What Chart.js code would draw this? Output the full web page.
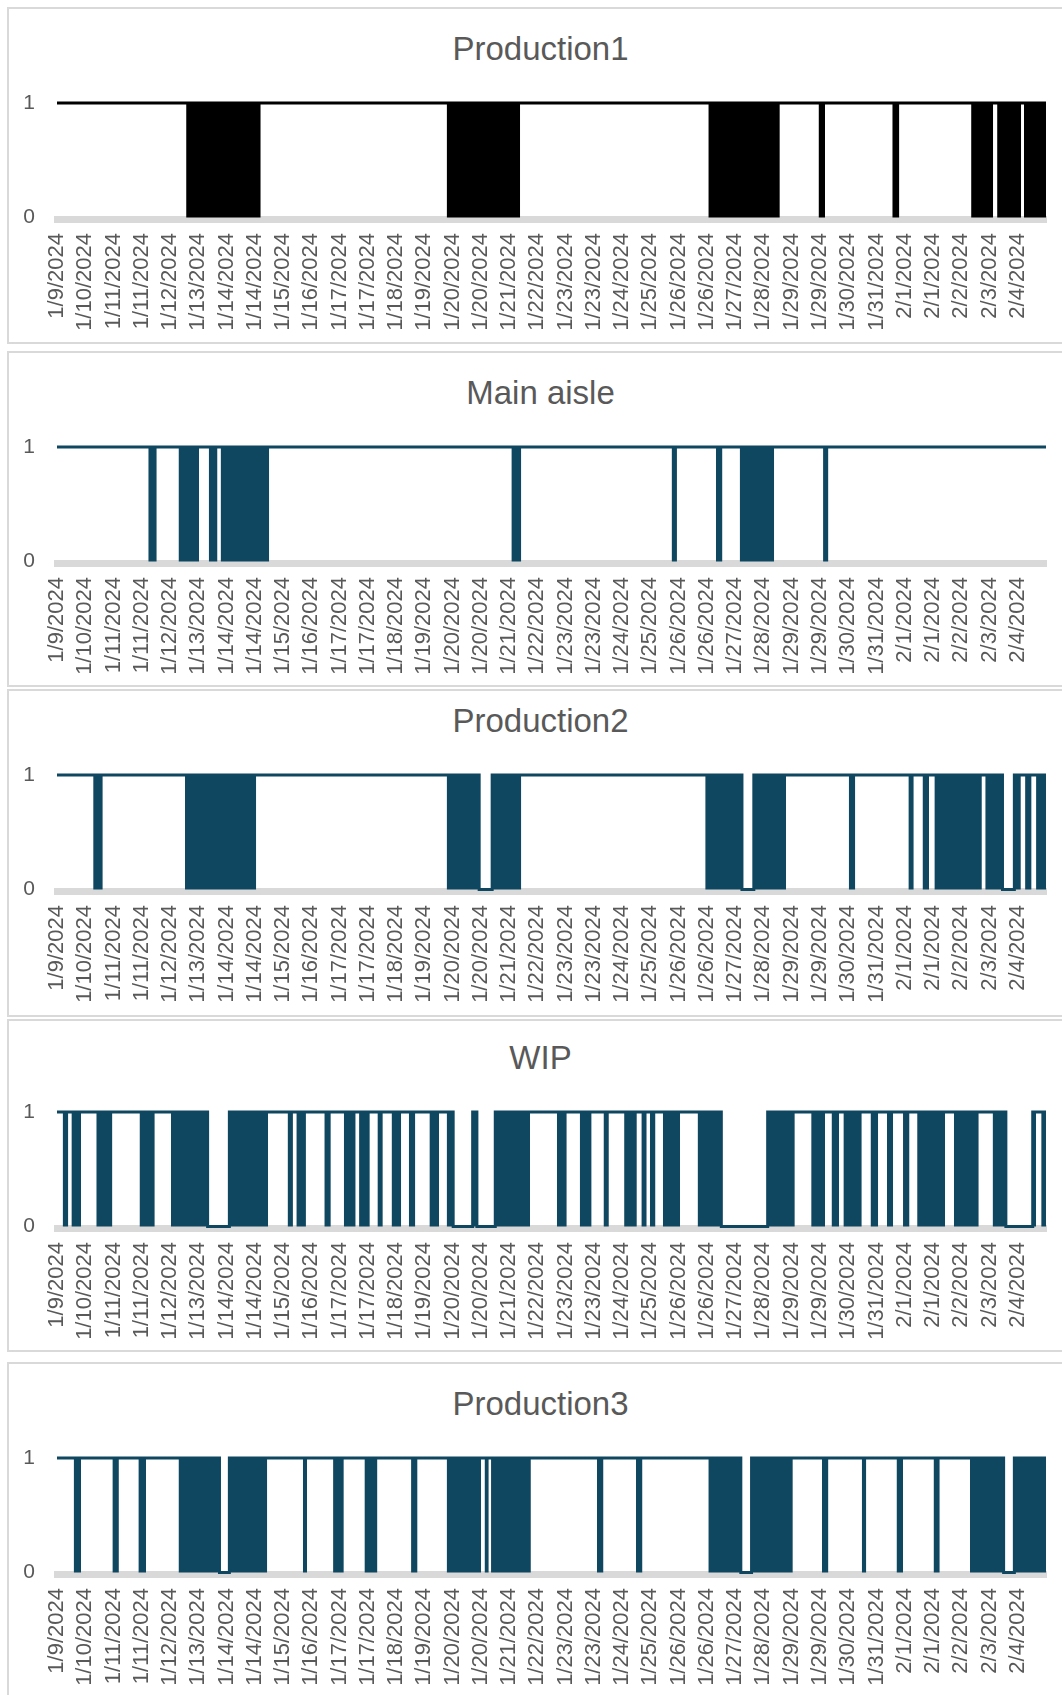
<!DOCTYPE html>
<html lang="en">
<head>
<meta charset="UTF-8">
<title>Area status</title>
<script src="https://cdn.jsdelivr.net/npm/chart.js"></script>
<style>
  body { margin: 0; background: #fff; overflow: hidden; width: 1062px; height: 1695px; position: relative; font-family: "Liberation Sans", Arial, sans-serif; }
  .panel { position: absolute; left: 7px; width: 1067px; border: 2px solid #d9d9d9; box-sizing: border-box; }
  .title { position: absolute; left: 7px; width: 1067px; text-align: center; font-size: 33px; line-height: 38px; color: #595959; }
  canvas { position: absolute; left: 0; }
</style>
</head>
<body>
<div class="panel" style="top:7px;height:337px"></div>
<div class="panel" style="top:351px;height:336px"></div>
<div class="panel" style="top:689px;height:328px"></div>
<div class="panel" style="top:1019px;height:333px"></div>
<div class="panel" style="top:1362px;height:400px"></div>

<div class="title" style="top:30px">Production1</div>
<div class="title" style="top:374px">Main aisle</div>
<div class="title" style="top:702px">Production2</div>
<div class="title" style="top:1039px">WIP</div>
<div class="title" style="top:1385px">Production3</div>

<canvas id="chart1" width="1062" height="322" style="top:7px"></canvas>
<canvas id="chart2" width="1062" height="322" style="top:351px"></canvas>
<canvas id="chart3" width="1062" height="322" style="top:679px"></canvas>
<canvas id="chart4" width="1062" height="322" style="top:1016px"></canvas>
<canvas id="chart5" width="1062" height="322" style="top:1362px"></canvas>

<script>
// category labels shown under every panel (one per label slot, x = slot index)
const dateLabels = ["1/9/2024", "1/10/2024", "1/11/2024", "1/11/2024", "1/12/2024", "1/13/2024", "1/14/2024",
  "1/14/2024", "1/15/2024", "1/16/2024", "1/17/2024", "1/17/2024", "1/18/2024", "1/19/2024", "1/20/2024",
  "1/20/2024", "1/21/2024", "1/22/2024", "1/23/2024", "1/23/2024", "1/24/2024", "1/25/2024", "1/26/2024",
  "1/26/2024", "1/27/2024", "1/28/2024", "1/29/2024", "1/29/2024", "1/30/2024", "1/31/2024", "2/1/2024",
  "2/1/2024", "2/2/2024", "2/3/2024", "2/4/2024"];
const xEnd = 35;
const yTicks = [0, 1];

// stretches where the signal flips 0/1 continuously (drawn solid), in label-slot units
// stretches where it stays at 0; everywhere else it is 1
const prod1Toggle = [[4.57, 7.21], [13.79, 16.39], [23.05, 25.58], [26.95, 27.18], [29.56, 29.81],
  [32.35, 33.13], [33.27, 34.12], [34.22, 35]];
const prod1Low = [];

const aisleToggle = [[3.23, 3.53], [4.30, 5.03], [5.37, 5.68], [5.79, 7.51], [16.08, 16.43],
  [21.75, 21.94], [23.32, 23.55], [24.16, 25.38], [27.11, 27.30]];
const aisleLow = [];

const prod2Toggle = [[1.28, 1.62], [4.53, 7.05], [13.79, 14.94], [15.40, 16.43], [22.94, 24.24],
  [24.66, 25.80], [28.02, 28.25], [30.13, 30.32], [30.63, 30.86], [31.05, 32.73], [32.85, 33.46],
  [33.88, 34.11], [34.26, 34.49], [34.65, 35]];
const prod2Low = [[14.94, 15.40], [24.24, 24.66], [33.46, 33.88]];

const wipToggle = [[0.20, 0.40], [0.51, 0.85], [1.39, 1.96], [2.92, 3.46], [4.03, 5.33], [6.10, 7.47],
  [8.16, 8.35], [8.47, 8.81], [9.46, 9.69], [10.15, 10.57], [10.69, 11.07], [11.34, 11.53],
  [11.84, 12.18], [12.45, 12.68], [13.18, 13.52], [13.79, 14.02], [14.71, 14.86], [15.51, 16.74],
  [17.69, 18.04], [18.50, 18.92], [19.34, 19.53], [20.07, 20.52], [20.68, 20.87], [20.98, 21.18],
  [21.44, 22.05], [22.67, 23.51], [25.15, 26.11], [26.69, 27.18], [27.41, 27.68], [27.83, 28.48],
  [28.79, 29.06], [29.37, 29.59], [29.94, 30.17], [30.44, 31.43], [31.74, 32.62], [33.11, 33.58],
  [34.53, 34.65], [34.83, 35]];
const wipLow = [[5.33, 6.10], [14.02, 14.71], [14.86, 15.51], [23.51, 25.15], [33.58, 34.53]];

const prod3Toggle = [[0.59, 0.85], [1.96, 2.19], [2.88, 3.15], [4.30, 5.75], [6.10, 7.44], [8.70, 8.85],
  [9.77, 10.15], [10.88, 11.34], [12.53, 12.76], [13.79, 15.01], [15.13, 15.28], [15.36, 16.77],
  [19.11, 19.34], [20.49, 20.72], [23.05, 24.20], [24.58, 26.04], [27.07, 27.30], [28.48, 28.64],
  [29.71, 29.94], [31.02, 31.24], [32.31, 33.50], [33.88, 35]];
const prod3Low = [[5.75, 6.10], [24.20, 24.58], [33.50, 33.88]];

const tealColor = "#0f4761";

Chart.defaults.font.family = '"Liberation Sans", Arial, sans-serif';
Chart.defaults.color = "#595959";

function makeChart(id, color, toggles, lows) {
  // solid blocks: one closed run per stretch, gaps between them
  let fillPts = [];
  toggles.forEach(function (r) {
    fillPts.push({ x: r[0], y: 1 }, { x: r[1], y: 1 }, { x: r[1], y: null });
  });
  // the state line, dropping to 0 where it stays low
  let linePts = [{ x: 0, y: 1 }];
  lows.forEach(function (r) {
    linePts.push({ x: r[0], y: 1 }, { x: r[0], y: 0 }, { x: r[1], y: 0 }, { x: r[1], y: 1 });
  });
  linePts.push({ x: xEnd, y: 1 });

  return new Chart(document.getElementById(id), {
    type: "line",
    data: {
      datasets: [
        { data: fillPts, fill: "origin", backgroundColor: color, borderWidth: 0, pointRadius: 0, spanGaps: false },
        { data: linePts, borderColor: color, borderWidth: 3, pointRadius: 0, fill: false, clip: false }
      ]
    },
    options: {
      responsive: false,
      animation: false,
      events: [],
      layout: { padding: { left: 0, right: 16, top: 96, bottom: 0 } },
      plugins: { legend: { display: false }, tooltip: { enabled: false } },
      scales: {
        x: {
          type: "linear", min: 0, max: xEnd,
          grid: { display: false, drawTicks: false },
          border: { color: "#d9d9d9", width: 7 },
          afterBuildTicks: function (s) { s.ticks = dateLabels.map(function (_, i) { return { value: i }; }); },
          afterFit: function (s) { s.height = 110; },
          ticks: {
            autoSkip: false, minRotation: 90, maxRotation: 90, padding: 14,
            color: "#595959", font: { size: 22 },
            callback: function (v) { return dateLabels[v] || ""; }
          }
        },
        y: {
          min: -0.013, max: 1,
          grid: { display: false, drawTicks: false },
          border: { display: false },
          afterBuildTicks: function (s) { s.ticks = yTicks.map(function (v) { return { value: v }; }); },
          afterFit: function (s) { s.width = 57; },
          ticks: { padding: 22, color: "#595959", font: { size: 21 } }
        }
      }
    }
  });
}

makeChart("chart1", "#000000", prod1Toggle, prod1Low);
makeChart("chart2", tealColor, aisleToggle, aisleLow);
makeChart("chart3", tealColor, prod2Toggle, prod2Low);
makeChart("chart4", tealColor, wipToggle, wipLow);
makeChart("chart5", tealColor, prod3Toggle, prod3Low);
</script>
</body>
</html>
